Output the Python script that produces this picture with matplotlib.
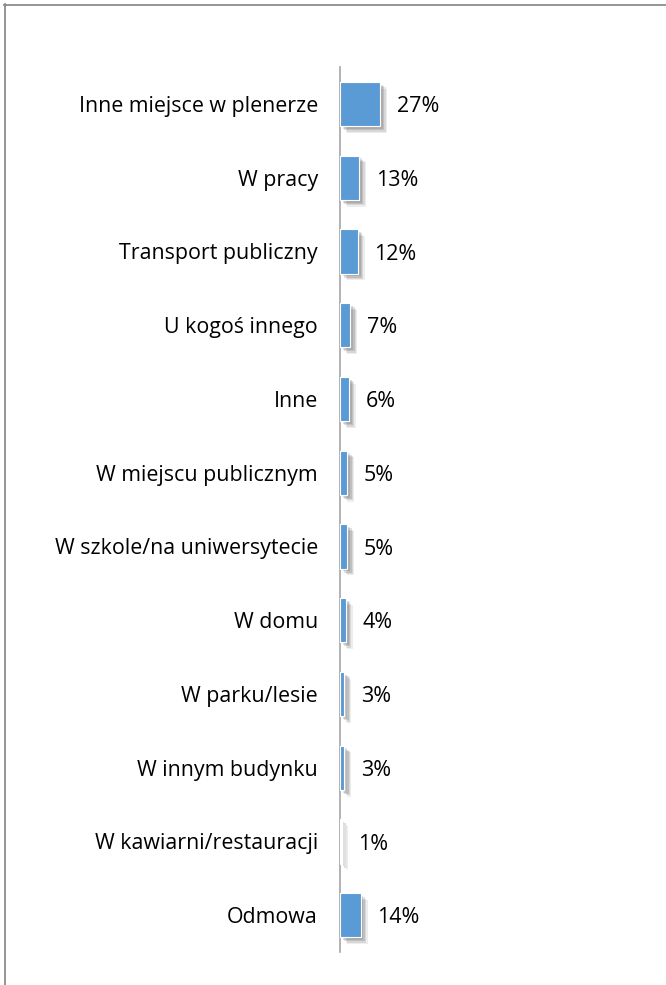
import matplotlib.pyplot as plt
import matplotlib.patheffects as pe
from matplotlib.lines import Line2D

plt.rcParams['font.family'] = ['Open Sans', 'DejaVu Sans']

# data
categories = ['Inne miejsce w plenerze', 'W pracy', 'Transport publiczny',
              'U kogoś innego', 'Inne', 'W miejscu publicznym',
              'W szkole/na uniwersytecie', 'W domu', 'W parku/lesie',
              'W innym budynku', 'W kawiarni/restauracji', 'Odmowa']
values = [27, 13, 12, 7, 6, 5, 5, 4, 3, 3, 1, 14]
labels = [f'{v}%' for v in values]

W, H = 666, 985
fig = plt.figure(figsize=(W / 100, H / 100), dpi=100)
ax = fig.add_axes([340 / W, 1 - 952 / H, 300 / W, (952 - 67) / H])

ypos = range(len(categories))
# soft drop shadow, built from a few translucent offset layers
shadow = []
for d, a in [(5, 0.10), (4, 0.14), (3, 0.18), (2, 0.18)]:
    shadow.append(pe.SimplePatchShadow(offset=(d, -d), shadow_rgbFace='#555555', alpha=a))
bars = ax.barh(ypos, values, height=0.6, color='#5B9BD5', edgecolor='white',
               linewidth=0.8, zorder=3)
for b in bars:
    b.set_path_effects(shadow + [pe.Normal()])

for y, v, t in zip(ypos, values, labels):
    ax.annotate(t, (v, y), xytext=(12, -2), textcoords='offset points',
                ha='left', va='center', fontsize=15.5, color='black')

ax.set_xlim(0, 300 / 1.48)
ax.set_ylim(len(categories) - 0.5, -0.5)
ax.set_yticks(list(ypos))
ax.set_yticklabels(categories, fontsize=15.4)
ax.tick_params(axis='y', length=0, pad=16)
ax.set_xticks([])
for s in ['top', 'right', 'bottom']:
    ax.spines[s].set_visible(False)
ax.spines['left'].set_color('#A6A6A6')
ax.spines['left'].set_linewidth(1.2)

# outer frame (cut off at right and bottom)
fig.add_artist(Line2D([4.5 / W, 4.5 / W], [0, 1 - 4 / H], color='#8C8C8C', lw=1.3,
                      transform=fig.transFigure))
fig.add_artist(Line2D([4 / W, 1], [1 - 4.5 / H, 1 - 4.5 / H], color='#8C8C8C', lw=1.3,
                      transform=fig.transFigure))

fig.savefig('out.png', dpi=100)
